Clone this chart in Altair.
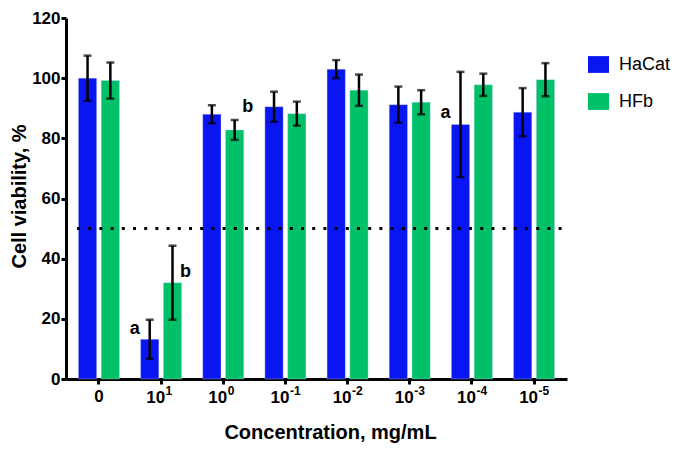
import altair as alt
import pandas as pd

categories = ["0", "10^1", "10^0", "10^-1", "10^-2", "10^-3", "10^-4", "10^-5"]
tick_base = ["0", "10", "10", "10", "10", "10", "10", "10"]
tick_exp = ["", "1", "0", "-1", "-2", "-3", "-4", "-5"]
series = ["HaCat", "HFb"]
hacat_mean = [100.0, 13.2, 88.0, 90.5, 103.0, 91.2, 84.6, 88.7]
hacat_err = [7.5, 6.5, 3.0, 5.0, 3.0, 6.0, 17.5, 8.0]
hfb_mean = [99.2, 32.0, 82.8, 88.2, 96.0, 92.0, 97.8, 99.5]
hfb_err = [6.0, 12.3, 3.3, 4.0, 5.2, 4.0, 3.7, 5.5]
colors = ["#0A16F2", "#00C168"]

ann_cat = ["10^1", "10^1", "10^0", "10^-4"]
ann_series = ["HaCat", "HFb", "HFb", "HaCat"]
ann_label = ["a", "b", "b", "a"]
ann_y = [16.5, 35.5, 90.5, 88.5]
threshold = [50]

W, H = 501, 361

rows = []
for c, m, e in zip(categories, hacat_mean, hacat_err):
    rows.append({"cat": c, "series": "HaCat", "mean": m, "lo": m - e, "hi": m + e})
for c, m, e in zip(categories, hfb_mean, hfb_err):
    rows.append({"cat": c, "series": "HFb", "mean": m, "lo": m - e, "hi": m + e})
df = pd.DataFrame(rows)
ann = pd.DataFrame({"cat": ann_cat, "series": ann_series, "label": ann_label, "y": ann_y})
thr = pd.DataFrame({"y": threshold})
ticks = pd.DataFrame({"cat": categories, "base": tick_base, "exp": tick_exp})
ticks_pow = ticks[ticks["exp"] != ""]

FONT = "Liberation Sans"

x_scale = alt.Scale(domain=categories, paddingInner=0.34, paddingOuter=0.2)
x_enc = alt.X(
    "cat:N", sort=categories, scale=x_scale,
    axis=alt.Axis(title="Concentration, mg/mL", labelAngle=0, labelPadding=4,
                  labelExpr="datum.value == '0' ? '0' : ''",
                  titlePadding=18, titleX=264),
)
xs = alt.X("cat:N", sort=categories, scale=x_scale)
xo = alt.XOffset("series:N", sort=series, scale=alt.Scale(paddingInner=0.2))
y_scale = alt.Scale(domain=[0, 120], nice=False, zero=True)

base = alt.Chart(df)

bars = base.mark_bar(stroke="#C8D0FF", strokeWidth=0.6, strokeOpacity=0.6).encode(
    x=x_enc,
    xOffset=xo,
    y=alt.Y("mean:Q", scale=y_scale,
            axis=alt.Axis(title="Cell viability, %", values=[0, 20, 40, 60, 80, 100, 120],
                          labelPadding=1, titlePadding=2, titleY=178)),
    color=alt.Color("series:N", sort=series,
                    scale=alt.Scale(domain=series, range=colors),
                    legend=alt.Legend(title=None, orient="none", legendX=522, legendY=36,
                                      symbolType="M-1,-0.8L1,-0.8L1,0.8L-1,0.8Z",
                                      symbolSize=441, symbolStrokeWidth=0,
                                      labelFontSize=18, labelFont=FONT, labelColor="black",
                                      labelOffset=10, rowPadding=17)),
)

rules = base.mark_rule(color="black", strokeWidth=2.5).encode(
    x=xs, xOffset=xo, y="lo:Q", y2="hi:Q",
)
cap_lo = base.mark_tick(color="black", size=8, thickness=2.5, orient="horizontal").encode(
    x=xs, xOffset=xo, y="lo:Q",
)
cap_hi = base.mark_tick(color="black", size=8, thickness=2.5, orient="horizontal").encode(
    x=xs, xOffset=xo, y="hi:Q",
)

dotted = alt.Chart(thr).mark_rule(color="black", strokeWidth=3, strokeDash=[3, 8.2]).encode(
    y="y:Q", x=alt.value(11), x2=alt.value(500),
)

ann_a = alt.Chart(ann).transform_filter(alt.datum.label == "a").mark_text(
    font=FONT, fontWeight="bold", fontSize=18, color="black", dx=-15, baseline="middle"
).encode(x=xs, xOffset=xo, y="y:Q", text="label:N")
ann_b = alt.Chart(ann).transform_filter(alt.datum.label == "b").mark_text(
    font=FONT, fontWeight="bold", fontSize=18, color="black", dx=13, baseline="middle"
).encode(x=xs, xOffset=xo, y="y:Q", text="label:N")

tick_ten = alt.Chart(ticks_pow).mark_text(
    font=FONT, fontWeight="bold", fontSize=17, color="black", align="right",
    baseline="alphabetic", dx=4
).encode(x=xs, y=alt.value(H + 24), text="base:N")
tick_sup = alt.Chart(ticks_pow).mark_text(
    font=FONT, fontWeight="bold", fontSize=12, color="black", align="left",
    baseline="alphabetic", dx=4.5
).encode(x=xs, y=alt.value(H + 16), text="exp:N")

chart = alt.layer(bars, rules, cap_lo, cap_hi, dotted, ann_a, ann_b, tick_ten, tick_sup).properties(
    width=W, height=H,
    autosize=alt.AutoSizeParams(type="none"),
    padding={"left": 58, "top": 10, "right": 110, "bottom": 66},
).configure_view(stroke=None).configure_axis(
    domainColor="black", domainWidth=3, tickColor="black", tickWidth=3, tickSize=5,
    labelFont=FONT, labelFontWeight="bold", labelFontSize=17, labelColor="black",
    titleFont=FONT, titleFontWeight="bold", titleFontSize=20, titleColor="black",
    grid=False,
).configure_axisX(titleFontSize=20)

chart.save("out.html", embed_options={"renderer": "svg", "actions": False})
